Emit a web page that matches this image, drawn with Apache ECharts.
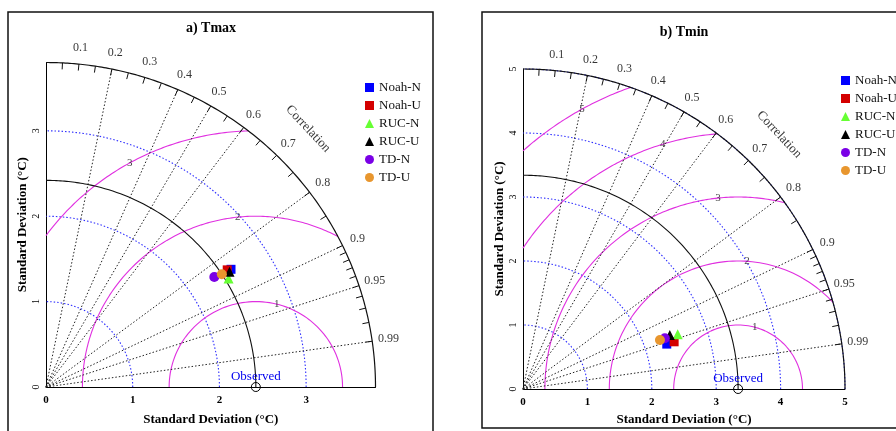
<!DOCTYPE html>
<html><head><meta charset="utf-8">
<script src="https://cdn.jsdelivr.net/npm/echarts@6/dist/echarts.min.js"></script>
<style>html,body{margin:0;padding:0;background:#fff}#c{width:896px;height:431px}</style>
</head><body><div id="c"></div>
<script>
// ---------------- data ----------------
const models = ['Noah-N','Noah-U','RUC-N','RUC-U','TD-N','TD-U'];
const tmaxSD   = [2.54, 2.50, 2.46, 2.51, 2.33, 2.42];
const tmaxCorr = [0.840, 0.836, 0.856, 0.843, 0.833, 0.838];
const tminSD   = [2.34, 2.46, 2.55, 2.43, 2.34, 2.26];
const tminCorr = [0.954, 0.954, 0.942, 0.938, 0.941, 0.941];
const observedSD = [2.42, 3.34];
const sdTicksA = [0, 1, 2, 3];
const sdTicksB = [0, 1, 2, 3, 4, 5];
const rmsLevelsA = [1, 2, 3];
const rmsLevelsB = [1, 2, 3, 4, 5];
const corrLabels = [0.1, 0.2, 0.3, 0.4, 0.5, 0.6, 0.7, 0.8, 0.9, 0.95, 0.99];
const corrRays = [0.2, 0.4, 0.5, 0.6, 0.8, 0.9, 0.95, 0.99];
const panelTitles = ['a) Tmax', 'b) Tmin'];
const axisMax = [3.8, 5];
const axisName = 'Standard Deviation (°C)';

// ---------------- styles / layout ----------------
const FONT = '"Liberation Serif", "Times New Roman", serif';
const symbols = ['rect','rect','triangle','triangle','circle','circle'];
const colors = ['#0000ff','#d40000','#66ff33','#000000','#7a00e6','#e8962e'];
const layout = [
  {left:46, top:62.5, size:329.5, legend:{left:360, top:76}, title:[211,28], frame:[8,12,425,440], rmsLabelDeg:[76,96,119], xNameGap:26},
  {left:523, top:69, size:322, legend:{left:836, top:69}, title:[684,32], frame:[482,12,440,416], rmsLabelDeg:[75,86,96,107,119], xNameGap:24}
];
const panels = [
  {sd: tmaxSD, corr: tmaxCorr, ticks: sdTicksA, rms: rmsLevelsA},
  {sd: tminSD, corr: tminCorr, ticks: sdTicksB, rms: rmsLevelsB}
];

function arc(cx, r, t0, t1, n) {
  n = n || 160; const p = [];
  for (let k = 0; k <= n; k++) { const t = t0 + (t1 - t0) * k / n; p.push([cx + r * Math.cos(t), r * Math.sin(t)]); }
  return p;
}

const series = [], xAxes = [], yAxes = [], grids = [], legends = [], graphics = [];

panels.forEach((P, i) => {
  const L = layout[i], R = axisMax[i], obs = observedSD[i];
  grids.push({left: L.left, top: L.top, width: L.size, height: L.size, containLabel: false});
  xAxes.push({gridIndex:i, type:'value', min:0, max:R, interval:1,
    splitLine:{show:false},
    axisLine:{onZero:false, lineStyle:{color:'#000', width:1}},
    axisTick:{show:false},
    axisLabel:{customValues:P.ticks, fontFamily:FONT, fontWeight:'bold', fontSize:11, color:'#000', margin:8},
    name: axisName, nameLocation:'middle', nameGap:L.xNameGap,
    nameTextStyle:{fontFamily:FONT, fontWeight:'bold', fontSize:13, color:'#000'}});
  yAxes.push({gridIndex:i, type:'value', min:0, max:R, interval:1,
    splitLine:{show:false},
    axisLine:{onZero:false, lineStyle:{color:'#000', width:1}},
    axisTick:{show:false},
    axisLabel:{customValues:P.ticks, rotate:90, fontFamily:FONT, fontSize:10, color:'#000', margin:5},
    name: axisName, nameLocation:'middle', nameGap:17,
    nameTextStyle:{fontFamily:FONT, fontWeight:'bold', fontSize:13, color:'#000'}});

  const line = (data, style, z) => ({type:'line', xAxisIndex:i, yAxisIndex:i, showSymbol:false, symbol:'none',
    silent:true, clip:false, animation:false, z: z, lineStyle: style, data: data});

  // std-dev arcs (blue dotted)
  P.ticks.filter(v => v > 0).forEach(r =>
    series.push(line(arc(0, r, 0, Math.PI/2), {color:'#3030ff', width:1.1, type:[1.5,2]}, 1)));

  // centred RMS arcs (magenta)
  P.rms.forEach(r => {
    let t0 = 0, t1 = Math.PI;
    if (obs + r > R) { const x = (R*R - r*r + obs*obs) / (2*obs); const y = Math.sqrt(R*R - x*x); t0 = Math.atan2(y, x - obs); }
    if (obs - r < 0) t1 = Math.acos(-obs / r);
    series.push(line(arc(obs, r, t0, t1), {color:'#e030e0', width:1.1}, 2));
  });

  // correlation rays (black dotted)
  corrRays.forEach(c =>
    series.push(line([[0,0],[R*c, R*Math.sqrt(1-c*c)]], {color:'#222', width:1, type:[1.5,2]}, 2)));

  // observed std arc and outer arc
  series.push(line(arc(0, obs, 0, Math.PI/2), {color:'#111', width:1.1}, 3));
  series.push(line(arc(0, R, 0, Math.PI/2, 240), {color:'#111', width:1.2}, 3));

  // outer arc ticks
  const tickVals = [];
  for (let k = 1; k <= 18; k++) tickVals.push(k * 0.05);
  for (let k = 91; k <= 99; k++) tickVals.push(k / 100);
  const tl = 0.02 * R;
  tickVals.forEach(c => { const s = Math.sqrt(1-c*c);
    series.push(line([[R*c, R*s], [(R-tl)*c, (R-tl)*s]], {color:'#111', width:1}, 3)); });

  const lab = {type:'scatter', xAxisIndex:i, yAxisIndex:i, symbolSize:1, silent:true, clip:false, animation:false,
    itemStyle:{color:'rgba(0,0,0,0)'}};
  // correlation labels
  series.push(Object.assign({}, lab, {z:4,
    label:{show:true, position:'inside', formatter:'{b}', fontFamily:FONT, fontSize:12, color:'#000'},
    data: corrLabels.map(c => ({name:String(c), value:[1.05*R*c, 1.05*R*Math.sqrt(1-c*c)]}))}));
  // "Correlation" caption
  series.push(Object.assign({}, lab, {z:4,
    label:{show:true, position:'inside', formatter:'{b}', rotate:-47, fontFamily:FONT, fontSize:13, color:'#000'},
    data: [{name:'Correlation', value:[1.125*R*Math.SQRT1_2, 1.125*R*Math.SQRT1_2]}]}));
  // RMS labels
  series.push(Object.assign({}, lab, {z:4,
    label:{show:true, position:'inside', formatter:'{b}', fontFamily:FONT, fontSize:11, color:'#111'},
    data: P.rms.map((r, k) => { const t = L.rmsLabelDeg[k] * Math.PI / 180; return {name:String(r), value:[obs + r*Math.cos(t), r*Math.sin(t)]}; })}));

  // observed point
  series.push({type:'scatter', xAxisIndex:i, yAxisIndex:i, silent:true, clip:false, animation:false, z:6,
    symbol:'circle', symbolSize:9,
    itemStyle:{color:'rgba(255,255,255,0)', borderColor:'#000', borderWidth:1, opacity:1},
    label:{show:true, position:'inside', offset:[0,-10], formatter:'Observed', fontFamily:FONT, fontSize:13, color:'#0000ee'},
    data:[[obs, 0]]});

  // model points
  models.forEach((m, j) => {
    const sd = P.sd[j], c = P.corr[j];
    series.push({type:'scatter', name:m, xAxisIndex:i, yAxisIndex:i, animation:false, clip:false, z:10,
      symbol:symbols[j], symbolSize: j < 2 ? 9 : (j < 4 ? 10 : 10),
      itemStyle:{color:colors[j], opacity:1},
      data:[[sd*c, sd*Math.sqrt(1-c*c)]]});
  });

  legends.push({data:models, orient:'vertical', left:L.legend.left, top:L.legend.top,
    itemWidth:9, itemHeight:9, itemGap:5, selectedMode:false,
    itemStyle:{opacity:1},
    textStyle:{fontFamily:FONT, fontSize:13, color:'#111'}});

  graphics.push({type:'rect', silent:true, shape:{x:L.frame[0], y:L.frame[1], width:L.frame[2], height:L.frame[3]},
    style:{fill:'none', stroke:'#111', lineWidth:1.5}});
  graphics.push({type:'text', silent:true, x:L.title[0], y:L.title[1],
    style:{text:panelTitles[i], font:'bold 14px ' + FONT, fill:'#000', textAlign:'center', textVerticalAlign:'middle', align:'center', verticalAlign:'middle'}});
});

const chart = echarts.init(document.getElementById('c'), null, {renderer:'canvas'});
chart.setOption({
  animation:false,
  backgroundColor:'#fff',
  grid: grids, xAxis: xAxes, yAxis: yAxes, legend: legends,
  series: series, graphic: graphics
});
</script></body></html>
